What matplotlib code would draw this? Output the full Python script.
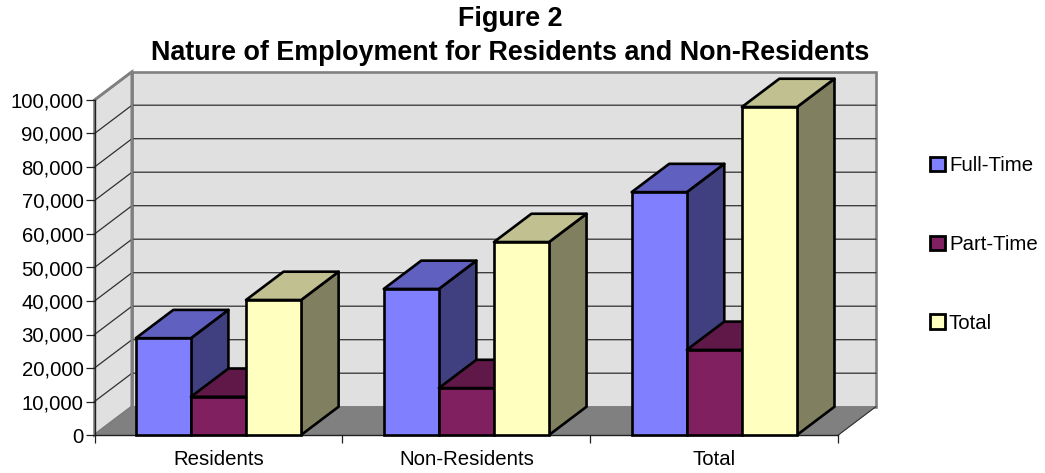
import matplotlib
matplotlib.use("Agg")
import matplotlib.pyplot as plt
from matplotlib.patches import Polygon, Patch
from matplotlib.ticker import FuncFormatter, FixedLocator, NullFormatter

plt.rcParams['font.family'] = ['Liberation Sans', 'DejaVu Sans']

categories = ["Residents", "Non-Residents", "Total"]
full_time = [28900, 43600, 72500]
part_time = [11400, 14000, 25400]
total = [40300, 57600, 97900]
series_names = ["Full-Time", "Part-Time", "Total"]
y_ticks = [0, 10000, 20000, 30000, 40000, 50000, 60000, 70000, 80000, 90000, 100000]

W, H = 1045, 473
X0, X1, Y0, Y1 = 94.5, 838.3, 435.0, 100.0   # front plane, pixels
fig = plt.figure(figsize=(W / 100, H / 100), dpi=100, facecolor="white")
ax = fig.add_axes([X0 / W, 1 - Y0 / H, (X1 - X0) / W, (Y0 - Y1) / H])
ax.set_xlim(0, 3)
ax.set_ylim(0, 100000)
ax.patch.set_visible(False)

DX = 37.5 / ((X1 - X0) / 3)
DY = 28.3 / (Y0 - Y1) * 100000
GREY = "#808080"
WALL = "#e0e0e0"
EDGE = 1.9


def poly(pts, fc, ec="none", lw=0, z=1, join="miter"):
    ax.add_patch(Polygon(pts, closed=True, facecolor=fc, edgecolor=ec, linewidth=lw,
                         zorder=z, clip_on=False, joinstyle=join))


# walls and floor
poly([(DX, DY), (3 + DX, DY), (3 + DX, 100000 + DY), (DX, 100000 + DY)], WALL, GREY, 1.9, 1)
poly([(0, 0), (DX, DY), (DX, 100000 + DY), (0, 100000)], WALL, GREY, 1.9, 1)
poly([(0, 0), (3, 0), (3 + DX, DY), (DX, DY)], GREY, GREY, 0.5, 1.5)

# gridlines on side wall and back wall
for v in y_ticks[1:-1]:
    ax.plot([0, DX, 3 + DX], [v, v + DY, v + DY], color="#303030", lw=0.9, zorder=1.2,
            clip_on=False, solid_joinstyle="miter")
ax.plot([0, DX], [0, DY], color="#707070", lw=0.9, zorder=1.2, clip_on=False)
ax.plot([0, DX, DX], [100000, 100000 + DY, DY], color=GREY, lw=1.9, zorder=1.3, clip_on=False)
ax.plot([3 + DX, 3], [DY, 0], color="#303030", lw=0.8, zorder=1.6, clip_on=False)

# bars
group = 4.5
bw = 1 / group
start = 0.75 * bw
styles = [("#8080ff", "#404080", "#6060c0"),
          ("#802060", "#60184a", "#601848"),
          ("#ffffc0", "#808060", "#c0c090")]
values = [full_time, part_time, total]
z = 2.0
for c in range(len(categories)):
    for s, vals in enumerate(values):
        v = vals[c]
        left = c + start + s * bw
        right = left + bw
        front, side, top = styles[s]
        poly([(right, 0), (right + DX, DY), (right + DX, v + DY), (right, v)], side, "black", EDGE, z, "round")
        poly([(left, v), (left + DX, v + DY), (right + DX, v + DY), (right, v)], top, "black", EDGE, z + 0.01, "round")
        ax.bar(left, v, width=bw, align="edge", color=front, edgecolor="black", linewidth=EDGE,
               zorder=z + 0.02, clip_on=False)
        z += 0.1

# axes
for name in ("top", "right"):
    ax.spines[name].set_visible(False)
for name in ("left", "bottom"):
    ax.spines[name].set_color("#202020")
    ax.spines[name].set_linewidth(1.0)
    ax.spines[name].set_zorder(1.8)
ax.set_yticks(y_ticks)
ax.yaxis.set_major_formatter(FuncFormatter(lambda v, p: f"{int(v):,}"))
ax.tick_params(axis="y", length=6.5, width=0.9, labelsize=14.7, pad=1.5, color="#202020", labelcolor="black")
ax.xaxis.set_major_locator(FixedLocator([0, 1, 2, 3]))
ax.xaxis.set_major_formatter(NullFormatter())
ax.xaxis.set_minor_locator(FixedLocator([0.5, 1.5, 2.5]))
ax.set_xticklabels(categories, minor=True)
ax.tick_params(axis="x", which="major", length=6, width=0.9, color="#202020")
ax.tick_params(axis="x", which="minor", length=0, labelsize=14.7, pad=10.8)

# title
fig.text(510 / W, 1 - 36 / H, "Figure 2\nNature of Employment for Residents and Non-Residents",
         ha="center", va="center", fontsize=19.4, fontweight="bold", linespacing=1.38)

# legend
handles = [Patch(facecolor=st[0], edgecolor="black", linewidth=2.0, label=n)
           for st, n in zip(styles, series_names)]
fig.legend(handles=handles, loc="center left", bbox_to_anchor=(924 / W, 1 - 244.5 / H),
           frameon=False, fontsize=14.7, handlelength=0.72, handleheight=0.72,
           handletextpad=0.2, labelspacing=2.93, borderpad=0.3, borderaxespad=0)

fig.savefig("out.png", dpi=100, facecolor="white")
